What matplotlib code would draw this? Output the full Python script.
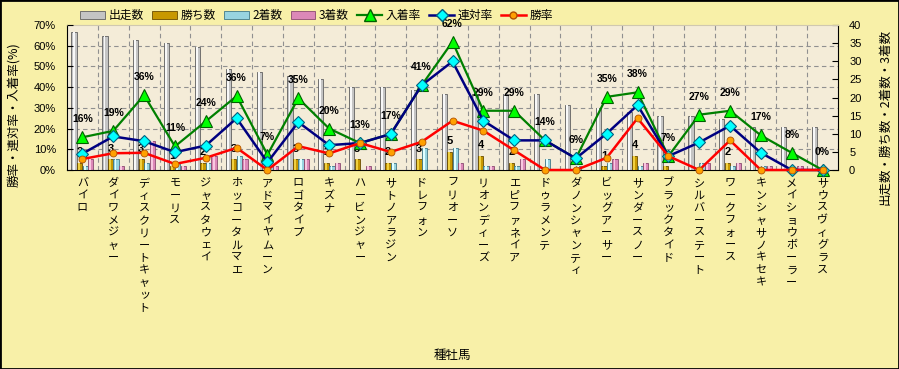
import matplotlib.pyplot as plt
from matplotlib.patches import Patch, Rectangle
from matplotlib.lines import Line2D
import numpy as np

plt.rcParams['font.family'] = ['Noto Sans CJK JP', 'DejaVu Sans']

# data
sires = ['バイロ', 'ダイワメジャー', 'ディスクリートキャット', 'モーリス', 'ジャスタウェイ',
         'ホッコータルマエ', 'アドマイヤムーン', 'ロゴタイプ', 'キズナ', 'ハービンジャー',
         'サトノアラジン', 'ドレフォン', 'フリオーソ', 'リオンディーズ', 'エピファネイア',
         'ドゥラメンテ', 'ダノンシャンティ', 'ビッグアーサー', 'サンダースノー', 'ブラックタイド',
         'シルバーステート', 'ワークフォース', 'キンシャサノキセキ', 'メイショウボーラー', 'サウスヴィグラス']
runs    = [38, 37, 36, 35, 34, 28, 27, 26, 25, 23, 23, 22, 21, 21, 21, 21, 18, 17, 16, 15, 15, 14, 12, 12, 12]
wins    = [2, 3, 3, 1, 2, 3, 0, 3, 2, 3, 2, 3, 5, 4, 2, 0, 0, 1, 4, 1, 0, 2, 0, 0, 0]
seconds = [1, 3, 2, 2, 2, 4, 1, 3, 1, 0, 2, 6, 6, 1, 1, 3, 1, 2, 1, 0, 2, 1, 1, 0, 0]
thirds  = [3, 1, 8, 1, 4, 3, 1, 3, 2, 1, 0, 0, 2, 1, 3, 0, 0, 3, 2, 0, 2, 2, 1, 1, 0]
win_rate    = [5.3, 8.1, 8.3, 2.9, 5.9, 10.7, 0, 11.5, 8.0, 13.0, 8.7, 13.6, 23.8, 19.0, 9.5,
               0, 0, 5.9, 25.0, 6.7, 0, 14.3, 0, 0, 0]
rentai_rate = [7.9, 16.2, 13.9, 8.6, 11.8, 25.0, 3.7, 23.1, 12.0, 13.0, 17.4, 40.9, 52.4, 23.8, 14.3,
               14.3, 5.6, 17.6, 31.3, 6.7, 13.3, 21.4, 8.3, 0, 0]
place_rate  = [15.8, 18.9, 36.1, 11.4, 23.5, 35.7, 7.4, 34.6, 20.0, 13.0, 17.4, 40.9, 61.9, 28.6, 28.6,
               14.3, 5.6, 35.3, 37.5, 6.7, 26.7, 28.6, 16.7, 8.3, 0]

x = np.arange(len(sires))

fig = plt.figure(figsize=(8.99, 3.69), dpi=100, facecolor='#f8f0a8')
ax = fig.add_axes([67/899, 1-170/369, 771/899, 145/369])
ax2 = ax.twinx()
ax.yaxis.tick_right()
ax2.yaxis.tick_left()
ax.set_facecolor('#f4ecd8')

ax.set_xlim(-0.5, len(sires) - 0.5)
ax.set_ylim(0, 40)
ax2.set_ylim(0, 70)

# grid (behind the bars)
ax.hlines(np.arange(10, 70, 10) * 40 / 70, -0.5, len(sires) - 0.5,
          colors='#909090', linestyles=(0, (4, 3)), linewidth=0.8, zorder=1)
ax.vlines(np.arange(0.5, len(sires) - 0.5, 1), 0, 40,
          colors='#909090', linestyles=(0, (4, 3)), linewidth=0.8, zorder=1)

bar_series = [
    (runs,    -0.27, '#c4c4c4', '#f8f8f8', '#606060'),
    (wins,    -0.09, '#c89800', '#f0d040', '#6a4c00'),
    (seconds,  0.09, '#98d4e0', '#e0ffff', '#407888'),
    (thirds,   0.27, '#dc88b8', '#f8c8e0', '#8a4a70'),
]
w = 0.17
for vals, off, base, hi, edge in bar_series:
    ax.bar(x + off, vals, width=w, color=base, edgecolor=edge, linewidth=0.6, zorder=2)
    ax.bar(x + off - 0.015, vals, width=0.06, color=hi, linewidth=0, zorder=3)

for i, n in enumerate(wins):
    if n > 0:
        ax.annotate(str(n), (i - 0.09, n), xytext=(0, 7.5), textcoords='offset points',
                    ha='center', va='center', fontsize=8, fontweight='bold',
                    family='Liberation Sans', zorder=4)

ax2.plot(x, place_rate, color='#008000', lw=1.6, marker='^', ms=9,
         mfc='#00ff00', mec='#006000', mew=0.8, clip_on=False, zorder=5)
ax2.plot(x, rentai_rate, color='#000080', lw=1.8, marker='D', ms=6,
         mfc='#00ffff', mec='#006080', mew=0.8, clip_on=False, zorder=6)
ax2.plot(x, win_rate, color='#ff0000', lw=1.8, marker='o', ms=5,
         mfc='#ffa000', mec='#b05000', mew=0.6, clip_on=False, zorder=7)

for i, p in enumerate(place_rate):
    ax2.annotate(f'{p:.0f}%', (i, p), xytext=(0, 13), textcoords='offset points',
                 ha='center', va='center', fontsize=7.5, fontweight='bold',
                 family='Liberation Sans', annotation_clip=False)

# axes styling
ax.set_xticks(x)
ax.set_xticklabels(['\n'.join(s) for s in sires], fontsize=8, linespacing=1.3, va='top')
ax.tick_params(axis='x', length=0, pad=6)
ax.set_yticks(np.arange(0, 41, 5))
ax.tick_params(axis='y', direction='in', length=4, pad=8, labelsize=8)
ax2.set_yticks(np.arange(0, 71, 10))
ax2.set_yticklabels([f'{v}%' for v in range(0, 71, 10)])
ax2.tick_params(axis='y', direction='in', length=4, pad=8, labelsize=8)
for lbl in ax.get_yticklabels() + ax2.get_yticklabels():
    lbl.set_fontfamily('Liberation Sans')

for s in ['left', 'right', 'bottom']:
    ax.spines[s].set_color('black')
ax.spines['top'].set_color('#d0c8b0')
for s in ax2.spines.values():
    s.set_visible(False)

fig.text(14/899, 1-115/369, '勝率・連対率・入着率(%)', rotation=90, ha='center', va='center', fontsize=9)
fig.text(885/899, 1-117/369, '出走数・勝ち数・2着数・3着数', rotation=90, ha='center', va='center', fontsize=9)
fig.text(452/899, 1-355/369, '種牡馬', ha='center', va='center', fontsize=9)

handles = [Patch(facecolor=c[2], edgecolor=c[4], linewidth=0.6) for c in bar_series] + [
    Line2D([], [], color='#008000', lw=1.6, marker='^', ms=8, mfc='#00ff00', mec='#006000'),
    Line2D([], [], color='#000080', lw=1.8, marker='D', ms=6, mfc='#00ffff', mec='#006080'),
    Line2D([], [], color='#ff0000', lw=1.8, marker='o', ms=5, mfc='#ffa000', mec='#b05000'),
]
labels = ['出走数', '勝ち数', '2着数', '3着数', '入着率', '連対率', '勝率']
fig.legend(handles, labels, ncol=7, loc='upper left', bbox_to_anchor=(72/899, 1-1/369),
           frameon=False, fontsize=8.5, handlelength=2.1, handletextpad=0.3,
           columnspacing=0.7, borderpad=0.2)

fig.patches.append(Rectangle((0, 0), 1, 1, transform=fig.transFigure, fill=False,
                             edgecolor='black', linewidth=2))

fig.savefig('out.png', dpi=100, facecolor=fig.get_facecolor())
